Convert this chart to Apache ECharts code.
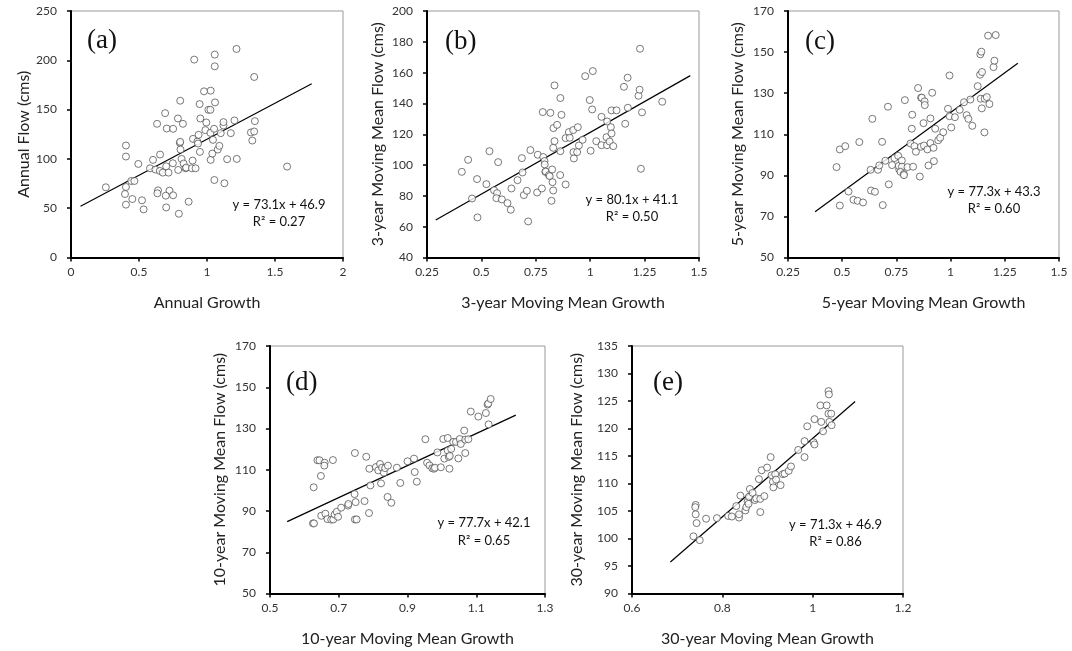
<!DOCTYPE html>
<html>
<head>
<meta charset="utf-8">
<script src="https://cdn.jsdelivr.net/npm/echarts@6/dist/echarts.min.js"></script>
<style>
  html, body { margin: 0; padding: 0; background: #fff; }
  #main { width: 1072px; height: 651px; }
</style>
</head>
<body>
<div id="main"></div>
<script>
// 5 scatter panels: flow vs growth for different moving-mean windows

// (a) annual
const annualGrowth = [0.256,0.404,0.404,0.495,0.404,0.397,0.451,0.404,0.443,0.466,0.522,0.534,0.581,0.603,0.655,0.633,0.621,0.653,0.640,0.635,0.675,0.692,0.704,0.700,0.717,0.724,0.697,0.700,0.751,0.751,0.749,0.786,0.788,0.793,0.803,0.800,0.803,0.805,0.813,0.823,0.828,0.842,0.847,0.865,0.889,0.894,0.897,0.906,0.916,0.929,0.934,0.938,0.946,0.948,0.951,0.978,0.988,0.995,1.010,1.025,1.025,1.027,1.027,1.039,1.044,1.052,1.054,1.057,1.057,1.059,1.079,1.091,1.101,1.121,1.121,1.128,1.148,1.175,1.202,1.217,1.219,1.323,1.333,1.347,1.352,1.347,1.589];
const annualFlow = [71.2,113.6,102.4,94.9,71.5,64.4,59.3,53.6,77.6,77.6,58.0,48.8,90.5,99.0,104.4,135.6,89.2,87.8,68.1,65.1,86.1,146.4,130.8,92.5,86.1,67.8,62.7,50.8,63.1,130.5,95.6,141.0,88.8,44.4,159.0,116.3,117.3,109.5,100.0,135.6,95.3,90.5,91.2,56.6,90.5,98.3,120.3,200.7,90.5,117.6,115.6,124.4,155.6,107.1,141.0,168.5,129.2,136.9,149.8,149.8,126.4,169.2,99.0,105.4,119.3,130.5,78.6,205.8,193.9,157.3,109.5,113.2,126.1,133.9,137.3,75.3,99.7,126.1,139.0,211.5,100.0,126.8,118.6,127.8,138.3,183.1,92.2];

// (b) 3-year moving mean
const growth3 = [0.410,0.439,0.457,0.480,0.482,0.523,0.537,0.558,0.572,0.577,0.569,0.594,0.620,0.635,0.638,0.666,0.686,0.689,0.695,0.709,0.715,0.725,0.756,0.759,0.778,0.782,0.784,0.790,0.791,0.794,0.796,0.810,0.814,0.817,0.822,0.825,0.827,0.830,0.830,0.831,0.836,0.836,0.848,0.862,0.863,0.863,0.868,0.887,0.887,0.902,0.906,0.922,0.923,0.925,0.940,0.943,0.948,0.965,0.977,0.998,1.002,1.009,1.012,1.028,1.052,1.052,1.075,1.078,1.077,1.089,1.095,1.098,1.098,1.106,1.121,1.155,1.161,1.172,1.173,1.222,1.227,1.229,1.233,1.238,1.331];
const flow3 = [95.6,103.4,78.3,90.9,66.0,87.6,109.0,83.7,81.8,101.9,78.5,77.7,75.3,71.0,84.8,90.2,104.5,95.2,80.5,83.3,63.4,109.7,82.2,106.7,84.8,134.4,105.2,102.6,100.4,95.6,95.8,93.5,92.8,133.9,76.8,97.1,88.9,83.5,111.2,124.0,115.5,151.7,126.1,93.5,109.0,143.5,132.6,87.4,117.5,121.4,117.7,122.7,108.4,104.3,108.4,124.6,112.7,116.4,157.7,142.2,109.3,136.1,161.0,115.5,131.3,112.9,118.1,128.3,112.9,115.3,124.6,120.5,135.5,112.3,135.5,150.8,126.8,156.7,137.2,145.0,148.9,175.5,97.6,134.2,141.1];

// (c) 5-year moving mean
const growth5 = [0.474,0.489,0.514,0.489,0.529,0.552,0.571,0.596,0.579,0.631,0.633,0.639,0.651,0.665,0.671,0.684,0.687,0.699,0.711,0.715,0.730,0.741,0.758,0.763,0.761,0.775,0.776,0.769,0.784,0.785,0.801,0.789,0.815,0.821,0.823,0.827,0.833,0.840,0.850,0.858,0.863,0.864,0.867,0.875,0.877,0.880,0.881,0.893,0.898,0.907,0.907,0.915,0.921,0.923,0.929,0.943,0.952,0.966,0.988,0.995,0.995,1.003,1.020,1.042,1.062,1.074,1.082,1.091,1.100,1.125,1.137,1.142,1.139,1.136,1.145,1.144,1.156,1.157,1.167,1.173,1.179,1.198,1.202,1.208];
const flow5 = [94.0,102.6,104.2,75.3,82.1,78.1,77.6,76.8,106.2,92.7,82.6,117.5,82.0,92.7,94.8,106.3,75.5,97.1,123.4,85.6,95.0,98.4,99.5,92.9,94.6,97.2,94.2,91.7,90.6,90.1,94.0,126.6,105.5,112.7,119.5,94.2,104.2,101.5,132.5,89.4,103.9,127.8,127.8,115.4,104.5,126.0,124.2,102.6,94.8,117.7,105.7,130.2,103.4,96.9,112.7,107.1,108.3,111.0,122.4,138.6,118.8,113.3,118.3,121.9,125.6,119.3,117.5,126.9,114.1,133.4,148.9,150.2,127.3,139.0,140.3,122.6,110.9,127.3,128.1,158.0,124.7,142.7,145.8,158.3];

// (d) 10-year moving mean
const growth10 = [0.625,0.628,0.627,0.638,0.644,0.648,0.649,0.659,0.658,0.661,0.667,0.678,0.683,0.684,0.688,0.694,0.698,0.707,0.727,0.728,0.746,0.747,0.749,0.747,0.752,0.775,0.780,0.788,0.789,0.792,0.808,0.815,0.820,0.823,0.826,0.831,0.835,0.842,0.843,0.853,0.869,0.879,0.900,0.919,0.921,0.927,0.952,0.957,0.964,0.972,0.977,0.980,0.987,0.997,1.004,1.007,1.017,1.017,1.020,1.022,1.023,1.027,1.033,1.041,1.048,1.052,1.055,1.065,1.068,1.068,1.077,1.084,1.106,1.128,1.133,1.136,1.135,1.142];
const flow10 = [84.0,84.0,101.5,114.6,114.6,107.0,87.7,113.4,112.0,88.7,86.1,85.8,114.7,85.9,88.3,89.6,87.2,91.6,92.6,93.4,98.2,118.1,94.3,85.9,85.9,94.8,116.3,89.0,110.5,102.4,111.3,109.7,112.8,103.4,111.0,108.6,110.8,96.8,112.0,94.0,111.0,103.6,114.1,115.4,108.9,104.2,124.8,113.4,112.1,110.7,110.5,111.0,118.4,111.2,124.9,115.4,125.4,119.3,116.2,110.5,116.7,120.1,123.5,123.5,115.5,124.9,122.5,129.0,118.1,124.6,124.8,138.2,135.8,137.5,141.6,132.0,142.1,144.3];

// (e) 30-year moving mean
const growth30 = [0.736,0.741,0.740,0.741,0.743,0.750,0.764,0.788,0.813,0.821,0.831,0.837,0.837,0.840,0.851,0.853,0.856,0.858,0.861,0.859,0.867,0.872,0.875,0.884,0.884,0.881,0.887,0.893,0.899,0.907,0.909,0.912,0.913,0.917,0.919,0.929,0.934,0.938,0.947,0.952,0.968,0.982,0.982,0.988,1.002,1.004,1.004,1.017,1.019,1.023,1.031,1.035,1.036,1.035,1.037,1.041,1.042];
const flow30 = [100.4,106.1,105.7,104.4,102.8,99.7,103.6,103.7,104.1,104.0,105.9,103.8,104.4,107.8,105.1,105.7,106.7,106.3,109.0,107.6,108.3,107.0,107.3,104.8,107.2,110.8,112.4,107.7,112.9,114.8,111.5,110.3,109.3,111.7,110.7,109.7,111.7,111.8,112.3,113.1,116.1,117.7,114.8,120.4,117.5,117.1,121.7,124.2,121.2,119.5,124.2,126.8,126.2,122.7,121.2,122.7,120.6];

// linear fits shown on each panel
const fitSlope = [73.1, 80.1, 77.3, 77.7, 71.3];
const fitIntercept = [46.9, 41.1, 43.3, 42.1, 46.9];
const fitR2 = ['0.27', '0.50', '0.60', '0.65', '0.86'];
const fitXStart = [0.07, 0.29, 0.375, 0.55, 0.685];
const fitXEnd = [1.77, 1.46, 1.31, 1.215, 1.094];

// axes
const xMin = [0, 0.25, 0.25, 0.5, 0.6];
const xMax = [2, 1.5, 1.5, 1.3, 1.2];
const xStep = [0.5, 0.25, 0.25, 0.2, 0.2];
const yMin = [0, 40, 50, 50, 90];
const yMax = [250, 200, 170, 170, 135];
const yStep = [50, 20, 20, 20, 5];
const xTitles = ['Annual Growth', '3-year Moving Mean Growth', '5-year Moving Mean Growth', '10-year Moving Mean Growth', '30-year Moving Mean Growth'];
const yTitles = ['Annual Flow (cms)', '3-year Moving Mean Flow (cms)', '5-year Moving Mean Flow (cms)', '10-year Moving Mean Flow (cms)', '30-year Moving Mean Flow (cms)'];
const panelLetters = ['(a)', '(b)', '(c)', '(d)', '(e)'];

const xs = [annualGrowth, growth3, growth5, growth10, growth30];
const ys = [annualFlow, flow3, flow5, flow10, flow30];

// layout (px)
const grids = [
    { left: 71, top: 11, width: 272, height: 246.5 },
    { left: 427, top: 11, width: 272, height: 246.5 },
    { left: 788, top: 11, width: 271, height: 246.5 },
    { left: 270, top: 346, width: 275, height: 247.5 },
    { left: 632, top: 346, width: 271, height: 247.5 }
];
const yNameGap = [37, 41, 42, 42, 47];
const letterPos = [[87, 41], [445, 42], [805, 42], [286, 382.5], [653, 382.5]];
const eqPos = [[279, 205], [632, 200], [994, 192], [484, 523.5], [835.5, 525]];

let myChart = echarts.init(document.getElementById('main'));

const font = 'Lato, "Open Sans", sans-serif';

const xAxes = [], yAxes = [], series = [], graphics = [];
for (let i = 0; i < 5; i++) {
    xAxes.push({
        type: 'value', gridIndex: i,
        min: xMin[i], max: xMax[i], interval: xStep[i],
        axisLine: { onZero: false, lineStyle: { color: '#000', width: 2 } },
        axisTick: { show: true, length: 4, lineStyle: { color: '#000', width: 1.5 } },
        splitLine: { show: false },
        axisLabel: { color: '#333', fontSize: 12, fontFamily: font, margin: 9 },
        name: xTitles[i], nameLocation: 'middle', nameGap: 37,
        nameTextStyle: { color: '#222', fontSize: 16, fontFamily: font }
    });
    yAxes.push({
        type: 'value', gridIndex: i,
        min: yMin[i], max: yMax[i], interval: yStep[i],
        axisLine: { show: true, onZero: false, lineStyle: { color: '#000', width: 2 } },
        axisTick: { show: true, length: 4, lineStyle: { color: '#000', width: 1.5 } },
        splitLine: { show: false },
        axisLabel: { color: '#333', fontSize: 12, fontFamily: font, margin: 14 },
        name: yTitles[i], nameLocation: 'middle', nameGap: yNameGap[i],
        nameTextStyle: { color: '#222', fontSize: 16, fontFamily: font }
    });
    series.push({
        type: 'line', xAxisIndex: i, yAxisIndex: i,
        data: [fitXStart[i], fitXEnd[i]].map(x => [x, fitSlope[i] * x + fitIntercept[i]]),
        symbol: 'none', silent: true,
        lineStyle: { color: '#000', width: 1.2 }, z: 2
    });
    series.push({
        type: 'scatter', xAxisIndex: i, yAxisIndex: i,
        data: xs[i].map((x, k) => [x, ys[i][k]]),
        symbol: 'circle', symbolSize: 7,
        itemStyle: { color: '#fff', borderColor: '#444', borderWidth: 0.9 }, z: 3
    });
    graphics.push({
        type: 'text', x: letterPos[i][0], y: letterPos[i][1],
        style: { text: panelLetters[i], fontSize: 27, fontFamily: '"Liberation Serif", "DejaVu Serif", serif', fill: '#111', verticalAlign: 'middle' }
    });
    graphics.push({
        type: 'text', x: eqPos[i][0], y: eqPos[i][1],
        style: {
            text: 'y = ' + fitSlope[i].toFixed(1) + 'x + ' + fitIntercept[i].toFixed(1) + '\nR² = ' + fitR2[i],
            fontSize: 13, lineHeight: 17.5, fontFamily: font, fill: '#111', align: 'center', verticalAlign: 'top'
        }
    });
}
// eq text y is its first line's centre; shift to top
graphics.forEach(g => { if (g.style.align === 'center') g.y -= 9; });

option = {
    backgroundColor: '#fff',
    animation: false,
    grid: grids.map(g => Object.assign({ show: true, borderColor: '#999', borderWidth: 1, backgroundColor: 'transparent' }, g)),
    xAxis: xAxes,
    yAxis: yAxes,
    series: series,
    graphic: graphics
};

myChart.setOption(option);
</script>
</body>
</html>
